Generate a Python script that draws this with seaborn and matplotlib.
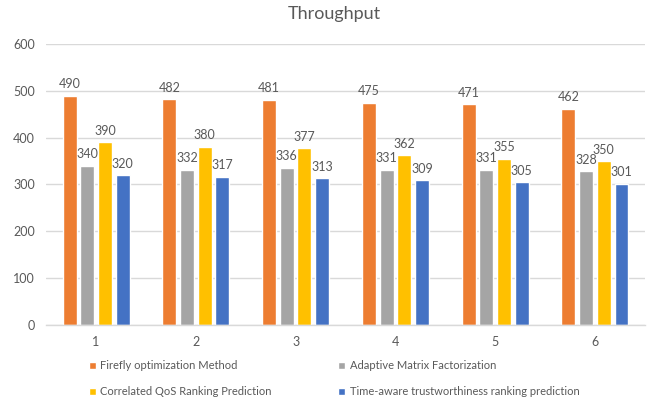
import matplotlib
matplotlib.use("Agg")
import matplotlib.pyplot as plt
import seaborn as sns
import pandas as pd

categories = ["1", "2", "3", "4", "5", "6"]
series_names = [
    "Firefly optimization Method",
    "Adaptive Matrix Factorization",
    "Correlated QoS Ranking Prediction",
    "Time-aware trustworthiness ranking prediction",
]
firefly = [490, 482, 481, 475, 471, 462]
adaptive_mf = [340, 332, 336, 331, 331, 328]
correlated_qos = [390, 380, 377, 362, 355, 350]
time_aware = [320, 317, 313, 309, 305, 301]
colors = ["#ED7D31", "#A5A5A5", "#FFC000", "#4472C4"]
y_ticks = [0, 100, 200, 300, 400, 500, 600]

rows = []
for name, vals in zip(series_names, [firefly, adaptive_mf, correlated_qos, time_aware]):
    for c, v in zip(categories, vals):
        rows.append({"category": c, "series": name, "value": v})
df = pd.DataFrame(rows)

sns.set_theme(style="white")
plt.rcParams["font.family"] = ["Lato", "DejaVu Sans"]
text_color = "#595959"

fig = plt.figure(figsize=(6.6, 4.05), dpi=100)
ax = fig.add_axes([0.07, 0.198, 0.907, 0.693])

sns.barplot(data=df, x="category", y="value", hue="series", order=categories,
            hue_order=series_names, palette=colors, width=0.71, gap=0.21,
            saturation=1, ax=ax, legend=True)

for cont in ax.containers:
    ax.bar_label(cont, fmt="%d", padding=4, fontsize=9, color=text_color)

ax.set_ylim(0, 600)
ax.set_yticks(y_ticks)
ax.set_xlim(-0.5, 5.5)
ax.yaxis.grid(True, color="#D9D9D9", linewidth=1)
ax.set_axisbelow(True)
for s in ["top", "right", "left"]:
    ax.spines[s].set_visible(False)
ax.spines["bottom"].set_color("#D9D9D9")
ax.spines["bottom"].set_linewidth(1)
ax.tick_params(axis="both", length=0, labelsize=9, colors=text_color, pad=8)
ax.set_xlabel("")
ax.set_ylabel("")
fig.suptitle("Throughput", x=0.506, y=0.985, fontsize=13, color=text_color)

# two rows: Firefly / Adaptive on top, Correlated / Time-aware below
handles, labels = ax.get_legend_handles_labels()
order = [0, 2, 1, 3]
ax.legend([handles[i] for i in order], [labels[i] for i in order],
          loc="upper left", bbox_to_anchor=(0.055, -0.09), ncol=2,
          frameon=False, fontsize=8, labelcolor=text_color, handlelength=0.6,
          handleheight=0.6, handletextpad=0.4, columnspacing=6.0, labelspacing=1.35)

fig.savefig("out.png", dpi=100)
